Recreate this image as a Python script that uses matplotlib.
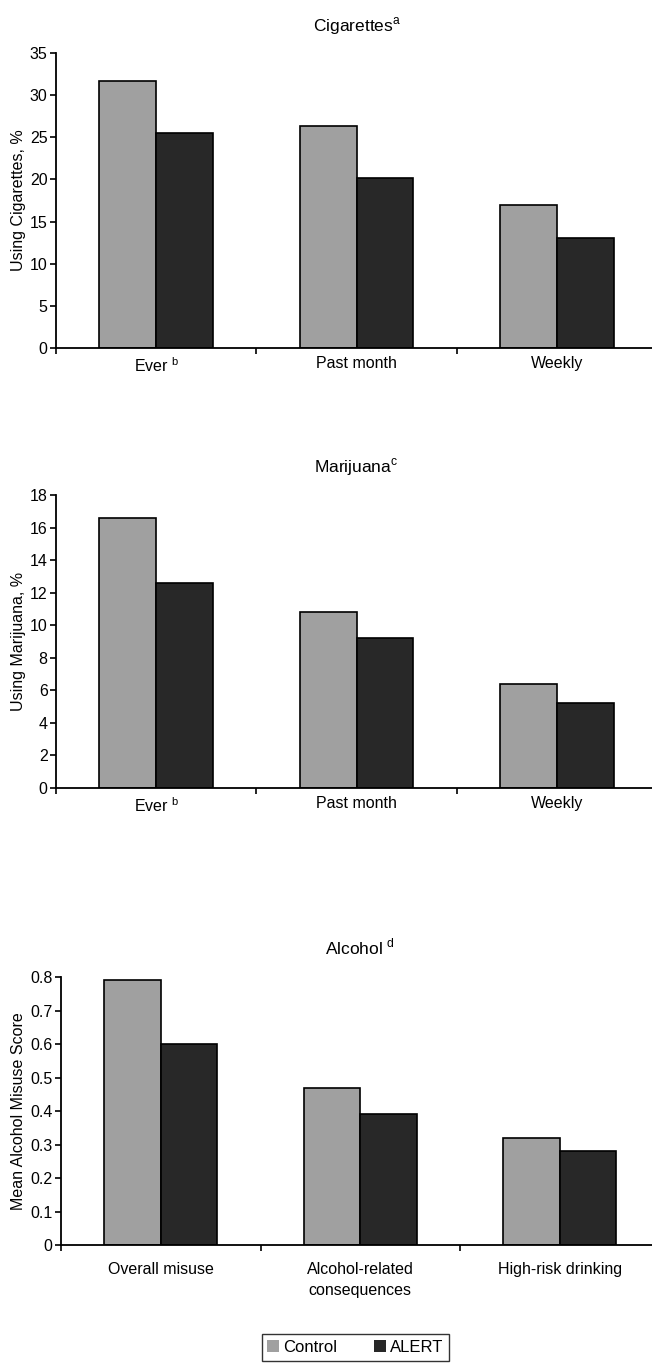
import numpy as np
import matplotlib
matplotlib.use("agg")
import matplotlib.pyplot as plt
from matplotlib.patches import Patch

plt.rcParams['font.family'] = ['Liberation Sans', 'DejaVu Sans']

# data
cig_labels = ['Ever $^\\mathregular{b}$', 'Past month', 'Weekly']
cig_control = [31.7, 26.3, 17.0]
cig_alert = [25.5, 20.2, 13.1]

mj_labels = ['Ever $^\\mathregular{b}$', 'Past month', 'Weekly']
mj_control = [16.6, 10.8, 6.4]
mj_alert = [12.6, 9.2, 5.2]

alc_labels = ['Overall misuse', 'Alcohol-related\nconsequences', 'High-risk drinking']
alc_control = [0.79, 0.47, 0.32]
alc_alert = [0.60, 0.39, 0.28]

gray = '#a0a0a0'
dark = '#282828'

fig = plt.figure(figsize=(6.52, 13.64), dpi=100)

def panel(rect, labels, control, alert, ymax, ystep, ylabel, title, xpad):
    ax = fig.add_axes(rect)
    x = np.arange(len(labels)) + 0.5
    w = 0.284
    ax.bar(x - w / 2, control, w, color=gray, edgecolor='black', linewidth=1.2)
    ax.bar(x + w / 2, alert, w, color=dark, edgecolor='black', linewidth=1.2)
    ax.set_xlim(0, 3)
    ax.set_ylim(0, ymax)
    ax.set_yticks(np.arange(0, ymax + ystep / 2, ystep))
    if ystep < 1:
        ax.set_yticklabels(['0'] + ['%.1f' % v for v in np.arange(ystep, ymax + ystep / 2, ystep)])
    ax.set_xticks([0, 1, 2, 3])
    ax.set_xticklabels([])
    ax.set_xticks(x, minor=True)
    ax.set_xticklabels(labels, minor=True, fontsize=11.5, linespacing=1.5)
    ax.tick_params(axis='x', which='minor', length=0, pad=xpad)
    ax.tick_params(axis='x', which='major', length=4, width=1.2, direction='out')
    ax.tick_params(axis='y', length=4, width=1.2, labelsize=11.5, pad=2)
    for s in ['top', 'right']:
        ax.spines[s].set_visible(False)
    ax.spines['left'].set_linewidth(1.3)
    ax.spines['bottom'].set_linewidth(1.3)
    ax.set_ylabel(ylabel, fontsize=11.5, labelpad=3)
    ax.set_title(title, fontsize=12.5, pad=16)
    return ax

panel([0.0859, 0.7449, 0.922, 0.2162], cig_labels, cig_control, cig_alert, 35, 5,
      'Using Cigarettes, %', 'Cigarettes$^\\mathregular{a}$', 6)
panel([0.0859, 0.4223, 0.922, 0.2148], mj_labels, mj_control, mj_alert, 18, 2,
      'Using Marijuana, %', 'Marijuana$^\\mathregular{c}$', 6)
panel([0.0936, 0.0872, 0.918, 0.1965], alc_labels, alc_control, alc_alert, 0.8, 0.1,
      'Mean Alcohol Misuse Score', 'Alcohol $^\\mathregular{d}$', 12)

handles = [Patch(facecolor=gray, edgecolor='none', label='Control'),
           Patch(facecolor=dark, edgecolor='none', label='ALERT')]
leg = fig.legend(handles=handles, loc='upper center', bbox_to_anchor=(0.545, 0.0221),
                 ncol=2, frameon=True, fancybox=False, edgecolor='black',
                 fontsize=12, handlelength=0.7, handleheight=0.7, handletextpad=0.25,
                 columnspacing=2.2, borderpad=0.35, borderaxespad=0)
leg.get_frame().set_linewidth(1.0)

fig.savefig('out.png', dpi=100)
